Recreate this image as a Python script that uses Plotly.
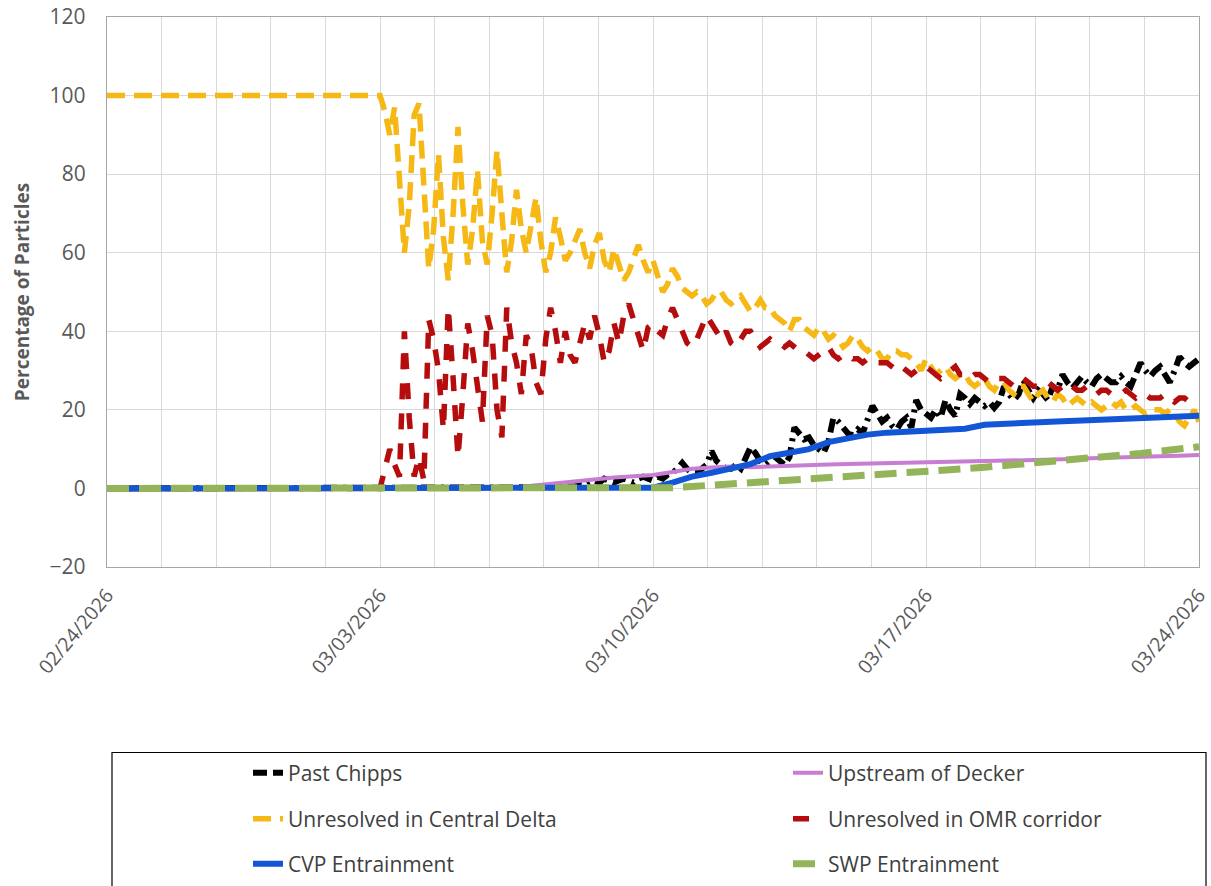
import pandas as pd
import plotly.graph_objects as go

# ---------------- data ----------------
# tidal (3-hourly) series: first point is 02/24/2026, then 03/03/2026 00:00 .. 03/24/2026 00:00 every 3 h
tidal_start = ["2026-02-24 00:00"]
tidal_dates = tidal_start + [d.strftime("%Y-%m-%d %H:%M") for d in pd.date_range("2026-03-03", "2026-03-24", freq="3h")]

central_delta = [
    100,
    100, 96, 90, 97, 78, 60, 72, 95,
    98, 76, 56, 66, 85, 64, 53, 70,
    92, 72, 57, 66, 81, 63, 57, 70,
    86, 70, 55, 63, 76, 66, 60, 67,
    74, 63, 55, 60, 69, 64, 58, 60,
    63, 66, 60, 56, 62, 65, 58, 55,
    61, 57, 53, 55, 59, 62, 58, 55,
    58, 54, 50, 52, 56, 54, 51, 50,
    49, 50, 49, 47, 48, 50, 50, 48,
    47, 48, 49, 47, 45, 46, 48, 46,
    46, 44, 43, 42, 40, 43, 43, 41,
    40, 39, 41, 40, 38, 39, 38, 36,
    37, 39, 38, 36, 35, 36, 35, 33,
    33, 35, 35, 34, 34, 33, 32, 30,
    33, 31, 29, 30, 31, 29, 28, 29,
    29, 27, 26, 27, 28, 26, 25, 27,
    27, 25, 24, 26, 26, 24, 22, 24,
    25, 23, 22, 24, 23, 21, 22, 23,
    22, 21, 22, 21, 20, 21, 22, 21,
    22, 20, 20, 21, 20, 19, 20, 20,
    20, 19, 20, 19, 17, 16, 18, 20,
    17,
]

omr_corridor = [
    0,
    0, 5, 10, 6, 3, 40, 18, 3,
    8, 2, 43, 38, 30, 15, 46, 28,
    8, 24, 42, 35, 25, 17, 44, 39,
    20, 13, 46, 37, 32, 24, 39, 36,
    27, 24, 38, 46, 40, 32, 40, 34,
    32, 37, 42, 38, 44, 39, 32, 35,
    42, 37, 44, 47, 43, 40, 35, 41,
    42, 40, 39, 43, 46, 43, 40, 37,
    36, 38, 41, 44, 42, 40, 38, 40,
    37, 36, 38, 40, 40, 38, 36, 37,
    38, 37, 37, 36, 37, 36, 35, 35,
    34, 33, 34, 35, 36, 34, 33, 34,
    34, 33, 33, 32, 33, 33, 32, 32,
    32, 31, 30, 31, 30, 29, 30, 31,
    31, 30, 29, 28, 29, 30, 31, 29,
    29, 28, 29, 29, 28, 27, 28, 28,
    28, 27, 26, 27, 28, 27, 26, 26,
    27, 27, 26, 25, 26, 27, 26, 25,
    25, 26, 25, 24, 25, 25, 24, 24,
    24, 25, 24, 23, 24, 24, 23, 23,
    23, 24, 23, 22, 23, 23, 22, 22,
    22,
]

past_chipps = [
    0,
    0, 0, 0, 0, 0, 0, 0, 0,
    0, 0, 0, 0, 0, 0, 0, 0,
    0, 0, 0, 0, 0, 0, 0, 0,
    0, 0, 0, 0, 0, 0, 0, 0,
    0, 0, 0, 0, 0, 0, 0.3, 0.5,
    0.5, 1, 0.8, 1.5, 2, 1.5, 2.5, 2,
    1.5, 2, 2.5, 2, 1.5, 2.5, 3, 2.5,
    2, 3, 2.5, 3.5, 4, 5, 6.5, 5,
    4, 4, 5, 6, 9.5, 7, 6, 5,
    5, 6, 5, 8, 10.5, 9, 7, 6,
    7, 8, 7, 6, 8, 15.5, 14, 12.5,
    13, 11, 10, 9, 12, 18, 17, 15.5,
    14, 13.5, 15, 14, 17, 21, 19, 17,
    18, 16, 15, 17, 18, 15.5, 22.5, 20,
    19, 18, 20, 18, 22.5, 20, 18.5, 24,
    23, 21.5, 23, 22, 21, 22, 20.5, 22,
    26, 24, 22.5, 24, 27.5, 25, 23, 25,
    24, 22.5, 26, 25, 29, 27, 25.5, 27,
    28.5, 27, 26, 28, 29, 28, 27, 27,
    28.5, 27, 26, 29, 32, 30, 28.5, 30,
    31, 29, 27, 30, 33.5, 32, 31, 32,
    33,
]

# smooth (12-hourly) series: 02/24/2026, then 03/03/2026 00:00 .. 03/24/2026 00:00 every 12 h
smooth_dates = tidal_start + [d.strftime("%Y-%m-%d %H:%M") for d in pd.date_range("2026-03-03", "2026-03-24", freq="12h")]

upstream_decker = [
    0,
    0, 0, 0, 0, 0, 0, 0,
    0.3, 0.8, 1.2, 1.8, 2.4, 2.8, 3.1, 3.4, 4.2, 5.0, 5.3, 5.6, 5.4, 5.6, 5.9, 6.0,
    6.1, 6.2, 6.3, 6.4, 6.5, 6.5, 6.6, 6.7, 6.9, 7.0, 7.2, 7.3, 7.4, 7.6, 7.8, 7.9,
    8.0, 8.2, 8.3, 8.5,
]

cvp_entrainment = [
    0,
    0, 0, 0, 0, 0, 0, 0, 0, 0, 0, 0, 0, 0, 0,
    0.2, 1.5, 3.0, 4.0, 5.0, 6.2, 8.2, 9.2, 10.0, 11.8, 12.8, 13.7, 14.2, 14.5, 14.8,
    15.0, 15.2, 16.2, 16.5, 16.7, 16.9, 17.1, 17.3, 17.5, 17.7, 17.9, 18.1, 18.3, 18.5,
]

swp_entrainment = [
    0,
    0, 0, 0, 0, 0, 0, 0, 0, 0, 0, 0, 0, 0, 0, 0,
    0.2, 0.5, 0.8, 1.1, 1.4, 1.6, 1.9, 2.2, 2.6, 3.0, 3.3, 3.7, 4.0, 4.3,
    4.6, 5.0, 5.4, 5.8, 6.3, 6.7, 7.1, 7.5, 7.9, 8.3, 8.9, 9.5, 10.1, 10.6,
]

series_names = [
    "Past Chipps", "Upstream of Decker",
    "Unresolved in Central Delta", "Unresolved in OMR corridor",
    "CVP Entrainment", "SWP Entrainment",
]
y_ticks = [-20, 0, 20, 40, 60, 80, 100, 120]
x_ticks = ["2026-02-24", "2026-03-03", "2026-03-10", "2026-03-17", "2026-03-24"]

# ---------------- figure ----------------
FONT = "Open Sans"
TXT = "#595959"
W, H = 1211, 886
ML, MR, MT, MB = 107, 12, 17, 319
pw, ph = W - ML - MR, H - MT - MB


def px_x(p):
    # pixel -> paper x
    return (p - ML) / pw


def px_y(p):
    # pixel -> paper y
    return (H - MB - p) / ph


fig = go.Figure()
fig.add_trace(go.Scatter(x=tidal_dates, y=past_chipps, name=series_names[0], mode="lines",
                         line=dict(color="#000000", width=6, dash="14px,6px,14px,6px,3px,6px"),
                         legend="legend"))
fig.add_trace(go.Scatter(x=smooth_dates, y=upstream_decker, name=series_names[1], mode="lines",
                         line=dict(color="#c77dd2", width=4), legend="legend2"))
fig.add_trace(go.Scatter(x=tidal_dates, y=central_delta, name=series_names[2], mode="lines",
                         line=dict(color="#f5b814", width=5.5, dash="18px,9px"), legend="legend3"))
fig.add_trace(go.Scatter(x=tidal_dates, y=omr_corridor, name=series_names[3], mode="lines",
                         line=dict(color="#b50d0d", width=5.5, dash="16px,14px"), legend="legend4"))
fig.add_trace(go.Scatter(x=smooth_dates, y=cvp_entrainment, name=series_names[4], mode="lines",
                         line=dict(color="#1256d6", width=6), legend="legend5"))
fig.add_trace(go.Scatter(x=smooth_dates, y=swp_entrainment, name=series_names[5], mode="lines",
                         line=dict(color="#94b45a", width=7, dash="22px,10px"), legend="legend6"))

leg_common = dict(orientation="h", xanchor="left", yanchor="middle",
                  bgcolor="rgba(0,0,0,0)", borderwidth=0,
                  font=dict(family=FONT, size=21, color="#404040"))
col_x = [px_x(248), px_x(788)]
row_y = [px_y(773), px_y(819), px_y(864)]

fig.update_layout(
    width=W, height=H,
    margin=dict(l=ML, r=MR, t=MT, b=MB, autoexpand=False),
    paper_bgcolor="white", plot_bgcolor="white",
    font=dict(family=FONT, color=TXT),
    showlegend=True,
    legend=dict(leg_common, x=col_x[0], y=row_y[0]),
    legend2=dict(leg_common, x=col_x[1], y=row_y[0]),
    legend3=dict(leg_common, x=col_x[0], y=row_y[1]),
    legend4=dict(leg_common, x=col_x[1], y=row_y[1]),
    legend5=dict(leg_common, x=col_x[0], y=row_y[2]),
    legend6=dict(leg_common, x=col_x[1], y=row_y[2]),
    shapes=[dict(type="rect", xref="paper", yref="paper",
                 x0=px_x(112), x1=px_x(1206), y0=px_y(752.5), y1=px_y(940),
                 line=dict(color="#000000", width=1.2), fillcolor="rgba(0,0,0,0)", layer="above")],
)

fig.update_xaxes(
    type="date", range=["2026-02-24", "2026-03-24"],
    tickmode="array", tickvals=x_ticks, tickformat="%m/%d/%Y",
    tickangle=-50, tickfont=dict(family=FONT, size=19.5, color=TXT),
    ticks="", ticklabelstandoff=8, automargin=False, ticklabeloverflow="allow",
    showgrid=True, gridcolor="#d9d9d9", gridwidth=1,
    minor=dict(tick0="2026-02-24", dtick=1.4 * 86400000, showgrid=True, gridcolor="#d9d9d9", gridwidth=1),
    showline=True, linecolor="#a6a6a6", linewidth=1.3, mirror=True,
    zeroline=False,
)
fig.update_yaxes(
    range=[-20, 120], tickmode="array", tickvals=y_ticks,
    tickfont=dict(family=FONT, size=21, color=TXT),
    ticks="", ticklabelstandoff=16, automargin=False, ticklabeloverflow="allow",
    showgrid=True, gridcolor="#d9d9d9", gridwidth=1,
    showline=True, linecolor="#a6a6a6", linewidth=1.3, mirror=True,
    zeroline=False,
    title=dict(text="Percentage of Particles", standoff=14,
               font=dict(family=FONT, size=19, color=TXT, weight="bold")),
)

# remove the browser's default 8px body margin so the figure fills the window exactly
fig.write_html("out.html", config={"displayModeBar": False},
               post_script="document.body.style.margin='0px';")
